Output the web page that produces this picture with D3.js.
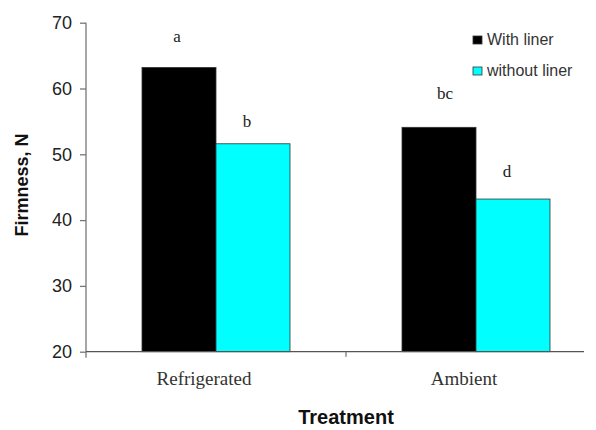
<!DOCTYPE html>
<html><head><meta charset="utf-8">
<script src="https://cdn.jsdelivr.net/npm/d3@7"></script>
<style>body{margin:0;background:#fff}</style>
</head><body><svg id="c" width="596" height="430"></svg>
<script>
const categories = ["Refrigerated", "Ambient"];
const seriesNames = ["With liner", "without liner"];
const withLiner = [63.2, 54.1];
const withoutLiner = [51.6, 43.2];
const letters = [["a", "b"], ["bc", "d"]];
const yTicks = [20, 30, 40, 50, 60, 70];
const colors = ["#000000", "#00ffff"];
// layout-only nudges for the significance letters [dx, gap above bar]
const letterNudge = [[[-2, 25], [-6, 17]], [[6, 28], [-6, 22]]];

const svg = d3.select("#c");
const x0 = d3.scaleBand().domain(categories).range([86, 606]).paddingInner(0).paddingOuter(0);
const x1 = d3.scaleBand().domain(seriesNames).range([0, 148]);
const y = d3.scaleLinear().domain([20, 70]).range([351.7, 22.7]);

// y axis
const ya = svg.append("g").attr("transform", "translate(86,0)")
  .call(d3.axisLeft(y).tickValues(yTicks).tickSize(6).tickPadding(8).tickSizeOuter(0));
ya.select(".domain").remove();
ya.append("line").attr("x1", 0).attr("x2", 0).attr("y1", y(70)).attr("y2", y(20) + 6).attr("stroke", "#777").attr("stroke-width", 1.3);
ya.selectAll(".tick line").attr("stroke", "#777").attr("stroke-width", 1.3);
ya.selectAll(".tick text").attr("font-family", "Arial, 'Liberation Sans', sans-serif").attr("font-size", 18).attr("fill", "#222");

// bars
const data = categories.map((c, i) => ({c, i, vals: [withLiner[i], withoutLiner[i]], lab: letters[i]}));
const g = svg.append("g");
data.forEach(d => {
  const off = x0(d.c) + (x0.bandwidth() - 148) / 2;
  d.vals.forEach((v, j) => {
    const xx = off + x1(seriesNames[j]);
    g.append("rect").attr("x", xx).attr("y", y(v)).attr("width", x1.bandwidth()).attr("height", y(20) - y(v))
      .attr("fill", colors[j]).attr("stroke", "#333").attr("stroke-width", 0.8);
    const nd = letterNudge[d.i][j];
    g.append("text").attr("x", xx + x1.bandwidth() / 2 + nd[0]).attr("y", y(v) - nd[1])
      .attr("text-anchor", "middle").attr("font-family", "'Liberation Serif', 'Times New Roman', serif")
      .attr("font-size", 17).attr("fill", "#222").text(d.lab[j]);
  });
});

// x axis
const xa = svg.append("g").attr("transform", `translate(0,${y(20)})`)
  .call(d3.axisBottom(x0).tickSize(0).tickPadding(20));
xa.select(".domain").remove();
xa.append("line").attr("x1", 86).attr("x2", 584).attr("y1", 0).attr("y2", 0).attr("stroke", "#555").attr("stroke-width", 1.3);
xa.append("line").attr("x1", x0("Ambient")).attr("x2", x0("Ambient")).attr("y1", 0).attr("y2", 5).attr("stroke", "#777").attr("stroke-width", 1.3);
xa.selectAll(".tick text").attr("dx", -12).attr("font-family", "'Liberation Serif', 'Times New Roman', serif")
  .attr("font-size", 19).attr("fill", "#333");

// axis titles
svg.append("text").attr("transform", "translate(28,185) rotate(-90)").attr("text-anchor", "middle")
  .attr("font-family", "Arial, 'Liberation Sans', sans-serif").attr("font-weight", "bold").attr("font-size", 18)
  .attr("fill", "#111").text("Firmness, N");
svg.append("text").attr("x", 346).attr("y", 424).attr("text-anchor", "middle")
  .attr("font-family", "Arial, 'Liberation Sans', sans-serif").attr("font-weight", "bold").attr("font-size", 20)
  .attr("fill", "#111").text("Treatment");

// legend
const lg = svg.append("g");
seriesNames.forEach((s, i) => {
  const yy = 40 + i * 31;
  lg.append("rect").attr("x", 473).attr("y", yy - 4).attr("width", 9).attr("height", 8)
    .attr("fill", colors[i]).attr("stroke", "#333").attr("stroke-width", 0.8);
  lg.append("text").attr("x", 487).attr("y", yy + 5).attr("font-family", "Arial, 'Liberation Sans', sans-serif")
    .attr("font-size", 16).attr("fill", "#333").text(s);
});
</script></body></html>
